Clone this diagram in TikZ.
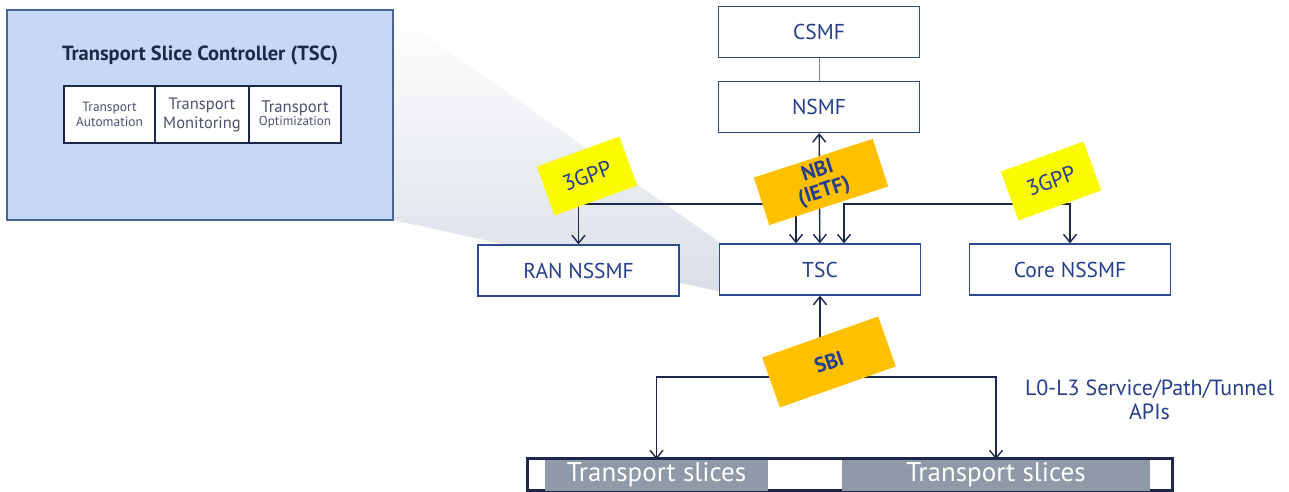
\documentclass[tikz,border=0pt]{standalone}
\usepackage{fontspec}
\setmainfont{PT Sans}
\usetikzlibrary{arrows.meta}

\definecolor{panelfill}{RGB}{198,216,244}
\definecolor{panelline}{RGB}{70,100,150}
\definecolor{boxline}{RGB}{45,75,145}
\definecolor{txtblue}{RGB}{38,62,140}
\definecolor{linknavy}{RGB}{28,40,75}
\definecolor{tagyellow}{RGB}{250,250,0}
\definecolor{tagorange}{RGB}{255,192,0}
\definecolor{slicegray}{RGB}{143,153,168}

\tikzset{%
  fbox/.style={
    rectangle,
    draw=boxline,
    line width=1.3pt,
    fill=white,
    text=txtblue,
    minimum width=201pt,
    minimum height=51pt,
    inner sep=0pt,
    font=\fontsize{21.5}{24}\selectfont
  },
  part/.style={
    rectangle,
    draw=linknavy,
    line width=1.2pt,
    fill=white,
    text=linknavy!80,
    minimum height=57pt,
    inner sep=0pt,
    align=center
  },
  tag/.style={
    rectangle,
    fill=tagyellow,
    text=txtblue,
    minimum width=88pt,
    minimum height=52pt,
    inner sep=0pt,
    font=\fontsize{22}{24}\selectfont
  },
  tag bold/.style={
    tag,
    fill=tagorange,
    align=center,
    font=\fontsize{21}{21}\selectfont\bfseries
  },
  link/.style={
    draw=linknavy,
    line width=1.4pt,
    >={Straight Barb[length=8pt,width=13pt]}
  },
  slice/.style={
    rectangle,
    fill=slicegray,
    text=white,
    minimum height=31pt,
    inner sep=0pt,
    font=\fontsize{27}{30}\selectfont
  },
}

\begin{document}
\begin{tikzpicture}[x=1pt,y=-1pt]
\useasboundingbox (0,0) rectangle (1289,492);
% shadow from the panel to TSC
\shade[top color=white, bottom color={rgb,255:red,218;green,223;blue,231}]
  (393,12) -- (722,244) -- (722,292) -- (393,220) -- cycle;
% TSC panel
\draw[panelline, line width=1.5pt, fill=panelfill] (7,10) rectangle (393,220);
\node[text=linknavy, font=\fontsize{20.5}{24}\selectfont\bfseries] (title) at (200,55) {Transport Slice Controller (TSC)};
\node[part, minimum width=91pt, font=\fontsize{13.4}{15}\selectfont] (auto) at (109.5,114.5) {Transport\\Automation};
\node[part, minimum width=94pt, font=\fontsize{16.5}{19}\selectfont] (monit) at (202,114.5) {Transport\\Monitoring};
\node[part, minimum width=92pt] (optim) at (295,114.5) {{\fontsize{16.7}{19}\selectfont Transport}\\{\fontsize{13}{18}\selectfont Optimization}};

% function boxes
\node[fbox] (csmf) at (819,32) {CSMF};
\node[fbox] (nsmf) at (819,107) {NSMF};
\node[fbox] (ran) at (578.5,270.5) {RAN NSSMF};
\node[fbox] (tsc) at (820,269.5) {TSC};
\node[fbox] (core) at (1070,269.5) {Core NSSMF};
\coordinate (bus) at (0,204);
\coordinate (sbibus) at (0,377);

% transport slices
\draw[draw=linknavy, line width=3pt, fill=white] (527,458) rectangle (1172,490.5);
\node[slice, minimum width=223pt] (sliceA) at (656.5,475) {Transport slices};
\node[slice, minimum width=308pt] (sliceB) at (996,475) {Transport slices};

% connectors
\draw[gray, line width=1pt] (csmf) -- (nsmf);
\draw[link,<->] (nsmf) -- (tsc);
\draw[link,<->] (ran.north) -- (ran.north |- bus) -| ([xshift=-24pt]tsc.north);
\draw[link,<->] ([xshift=24pt]tsc.north) -- ([xshift=24pt]tsc.north |- bus) -| (core.north);
\draw[link,->] (tsc.south |- sbibus) -- (tsc.south);
\draw[link,<->] (sliceA.north) -- (sliceA.north |- sbibus) -| (sliceB.north);

% interface tags
\node[tag, rotate=20] (gppL) at (587,176) {3GPP};
\node[tag, rotate=20] (gppR) at (1051,181) {3GPP};
\node[tag bold, rotate=18, minimum width=125pt, minimum height=50pt] (nbi) at (821,182) {NBI\\(IETF)};
\node[tag bold, rotate=19.5, minimum width=123pt, minimum height=53pt] (sbi) at (829,362) {SBI};

\node[text=txtblue, align=center, font=\fontsize{22}{24}\selectfont] (apis) at (1149.5,400) {L0-L3 Service/Path/Tunnel\\APIs};
\end{tikzpicture}
\end{document}
